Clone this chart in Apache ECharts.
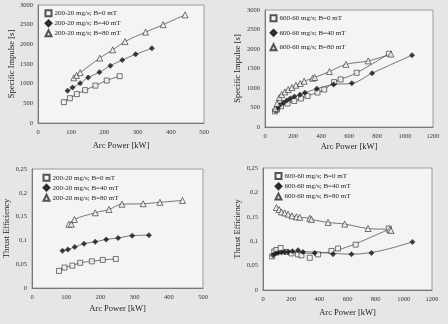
<!DOCTYPE html>
<html><head><meta charset="utf-8">
<script src="https://cdn.jsdelivr.net/npm/echarts@6/dist/echarts.min.js"></script>
<style>html,body{margin:0;padding:0;background:#e6e6e6}#c{width:448px;height:324px}</style>
</head><body><div id="c"></div>
<script>
// ---- Data ----
const seriesNames200 = ['200-20 mg/s; B=0 mT', '200-20 mg/s; B=40 mT', '200-20 mg/s; B=80 mT'];
const seriesNames600 = ['600-60 mg/s; B=0 mT', '600-60 mg/s; B=40 mT', '600-60 mg/s; B=80 mT'];

// Chart 1: Specific impulse, 200-20 mg/s
const isp200_B0_P = [78, 96, 117, 142, 173, 207, 246];
const isp200_B0_V = [530, 630, 735, 835, 950, 1080, 1190];
const isp200_B40_P = [89, 104, 127, 151, 185, 218, 254, 294, 343];
const isp200_B40_V = [817, 900, 1010, 1155, 1290, 1455, 1600, 1745, 1898];
const isp200_B80_P = [108, 116, 127, 186, 225, 262, 324, 377, 443];
const isp200_B80_V = [1150, 1210, 1280, 1650, 1860, 2070, 2310, 2500, 2750];

// Chart 2: Specific impulse, 600-60 mg/s
const isp600_B0_P = [72, 86, 114, 161, 209, 257, 304, 375, 423, 494, 540, 655, 885];
const isp600_B0_V = [400, 447, 532, 601, 668, 730, 797, 884, 961, 1150, 1220, 1390, 1880];
const isp600_B40_P = [75, 90, 105, 130, 155, 180, 210, 250, 285, 370, 490, 620, 765, 1050];
const isp600_B40_V = [420, 480, 560, 620, 680, 730, 780, 830, 880, 980, 1090, 1120, 1380, 1840];
const isp600_B80_P = [73, 86, 102, 119, 142, 166, 192, 221, 252, 280, 340, 355, 460, 578, 737, 900];
const isp600_B80_V = [470, 600, 755, 830, 900, 960, 1013, 1072, 1115, 1174, 1250, 1270, 1420, 1605, 1695, 1870];

// Chart 3: Thrust efficiency, 200-20 mg/s
const eff200_B0_P = [79, 95, 118, 141, 175, 207, 245];
const eff200_B0_V = [0.036, 0.043, 0.047, 0.053, 0.056, 0.059, 0.061];
const eff200_B40_P = [89, 105, 125, 152, 185, 217, 252, 293, 342];
const eff200_B40_V = [0.078, 0.081, 0.086, 0.093, 0.097, 0.102, 0.105, 0.110, 0.111];
const eff200_B80_P = [108, 115, 124, 185, 225, 263, 325, 374, 440];
const eff200_B80_V = [0.134, 0.134, 0.144, 0.158, 0.165, 0.176, 0.177, 0.180, 0.184];

// Chart 4: Thrust efficiency, 600-60 mg/s
const eff600_B0_P = [65, 80, 95, 125, 166, 202, 249, 273, 332, 391, 486, 533, 658, 893];
const eff600_B0_V = [0.069, 0.079, 0.082, 0.086, 0.078, 0.075, 0.073, 0.071, 0.066, 0.073, 0.080, 0.085, 0.093, 0.126];
const eff600_B40_P = [71, 90, 107, 131, 154, 178, 209, 249, 284, 367, 497, 628, 770, 1061];
const eff600_B40_V = [0.071, 0.075, 0.076, 0.077, 0.078, 0.078, 0.0795, 0.0815, 0.078, 0.076, 0.0735, 0.0735, 0.076, 0.0986];
const eff600_B80_P = [95, 114, 131, 154, 178, 206, 237, 261, 332, 344, 462, 580, 746, 900, 909];
const eff600_B80_V = [0.169, 0.165, 0.160, 0.158, 0.1555, 0.152, 0.150, 0.149, 0.147, 0.1446, 0.1385, 0.135, 0.126, 0.124, 0.122];
// trend lines drawn in chart 4
const eff600_B0_trendP = [65, 200, 350, 450, 520, 660, 780, 893];
const eff600_B0_trendV = [0.078, 0.077, 0.075, 0.077, 0.081, 0.095, 0.110, 0.124];
const eff600_B40_trendP = [71, 200, 350, 500, 630, 770, 900, 1061];
const eff600_B40_trendV = [0.074, 0.079, 0.078, 0.075, 0.0735, 0.077, 0.085, 0.0986];

// ---- Chart ----
const zip = (a, b) => a.map((x, i) => [x, b[i]]);
const plotBg = '#f4f4f4';
const ink = '#2a2a2a';
const serif = 'Liberation Serif';

const grids = [
  {left: 38, top: 5, width: 166, height: 118},
  {left: 265, top: 10, width: 168, height: 117},
  {left: 32, top: 169, width: 171, height: 119},
  {left: 263, top: 168, width: 169, height: 122}
];
const xMax = [500, 1200, 500, 1200];
const xInt = [100, 200, 100, 200];
const yMax = [3000, 3000, 0.25, 0.25];
const yInt = [500, 500, 0.05, 0.05];
const yNames = ['Specific Impulse [s]', 'Specific Impulse [s]', 'Thrust Efficiency', 'Thrust Efficiency'];
const xGap = [18, 15, 16, 18];
const yGap = [20, 23, 15, 20];

const fmtEff = v => v === 0 ? '0' : String(+v.toFixed(2)).replace('.', ',');
const fmtInt = v => String(Math.round(v));

const xAxis = grids.map((g, i) => ({
  gridIndex: i, type: 'value', min: 0, max: xMax[i], interval: xInt[i],
  axisLine: {show: true, lineStyle: {color: '#777', width: 1}},
  axisTick: {show: false}, splitLine: {show: false},
  axisLabel: {fontSize: 6.5, fontFamily: serif, color: '#333', margin: 6, formatter: fmtInt},
  name: 'Arc Power [kW]', nameLocation: 'middle', nameGap: xGap[i],
  nameTextStyle: {fontSize: 8.5, fontFamily: serif, color: '#222'}
}));
const yAxis = grids.map((g, i) => ({
  gridIndex: i, type: 'value', min: 0, max: yMax[i], interval: yInt[i],
  axisLine: {show: true, lineStyle: {color: '#777', width: 1}},
  axisTick: {show: false}, splitLine: {show: false},
  axisLabel: {fontSize: 6.5, fontFamily: serif, color: '#333', margin: 5,
    formatter: i >= 2 ? fmtEff : fmtInt},
  name: yNames[i], nameLocation: 'middle', nameGap: yGap[i], nameRotate: 90,
  nameTextStyle: {fontSize: 8.5, fontFamily: serif, color: '#222'}
}));

const markerStyles = [
  {symbol: 'rect', symbolSize: 5, itemStyle: {color: plotBg, borderColor: ink, borderWidth: 0.8}},
  {symbol: 'diamond', symbolSize: 5.5, itemStyle: {color: '#111', borderColor: '#111', borderWidth: 0.3}},
  {symbol: 'triangle', symbolSize: 6, itemStyle: {color: plotBg, borderColor: ink, borderWidth: 0.8}}
];

const series = [];
function addChart(gi, names, pts, trends) {
  pts.forEach((d, k) => {
    const tr = trends && trends[k] ? trends[k] : d;
    series.push({
      type: 'line', name: names[k] + ' trend', xAxisIndex: gi, yAxisIndex: gi,
      data: tr, smooth: 0.4, symbol: 'none', z: 2, silent: true,
      lineStyle: {color: '#555', width: 0.8}
    });
    series.push(Object.assign({
      type: 'scatter', name: names[k], xAxisIndex: gi, yAxisIndex: gi,
      data: d, z: 5, silent: true
    }, markerStyles[k]));
  });
}
addChart(0, seriesNames200, [zip(isp200_B0_P, isp200_B0_V), zip(isp200_B40_P, isp200_B40_V), zip(isp200_B80_P, isp200_B80_V)]);
addChart(1, seriesNames600, [zip(isp600_B0_P, isp600_B0_V), zip(isp600_B40_P, isp600_B40_V), zip(isp600_B80_P, isp600_B80_V)]);
addChart(2, seriesNames200, [zip(eff200_B0_P, eff200_B0_V), zip(eff200_B40_P, eff200_B40_V), zip(eff200_B80_P, eff200_B80_V)]);
addChart(3, seriesNames600, [zip(eff600_B0_P, eff600_B0_V), zip(eff600_B40_P, eff600_B40_V), zip(eff600_B80_P, eff600_B80_V)],
  [zip(eff600_B0_trendP, eff600_B0_trendV), zip(eff600_B40_trendP, eff600_B40_trendV), null]);

const legendPos = [
  {left: 44.5, top: 9.3, itemGap: 2},
  {left: 269.5, top: 14.3, itemGap: 6.5},
  {left: 42.5, top: 173.7, itemGap: 2},
  {left: 274.5, top: 172, itemGap: 2.3}
];
const legend = legendPos.map((p, i) => ({
  orient: 'vertical', left: p.left, top: p.top, itemGap: p.itemGap,
  itemWidth: 6, itemHeight: 6, padding: 0, selectedMode: false,
  data: i % 2 === 0 ? seriesNames200 : seriesNames600,
  textStyle: {fontSize: 7, fontFamily: serif, color: '#222', lineHeight: 8, padding: [0, 0, 0, -2]}
}));

const chart = echarts.init(document.getElementById('c'), null, {renderer: 'canvas'});
chart.setOption({
  backgroundColor: '#e6e6e6',
  animation: false,
  grid: grids.map(g => Object.assign({show: true, backgroundColor: plotBg, borderColor: '#888', borderWidth: 0.8}, g)),
  xAxis, yAxis, legend, series
});
</script></body></html>
